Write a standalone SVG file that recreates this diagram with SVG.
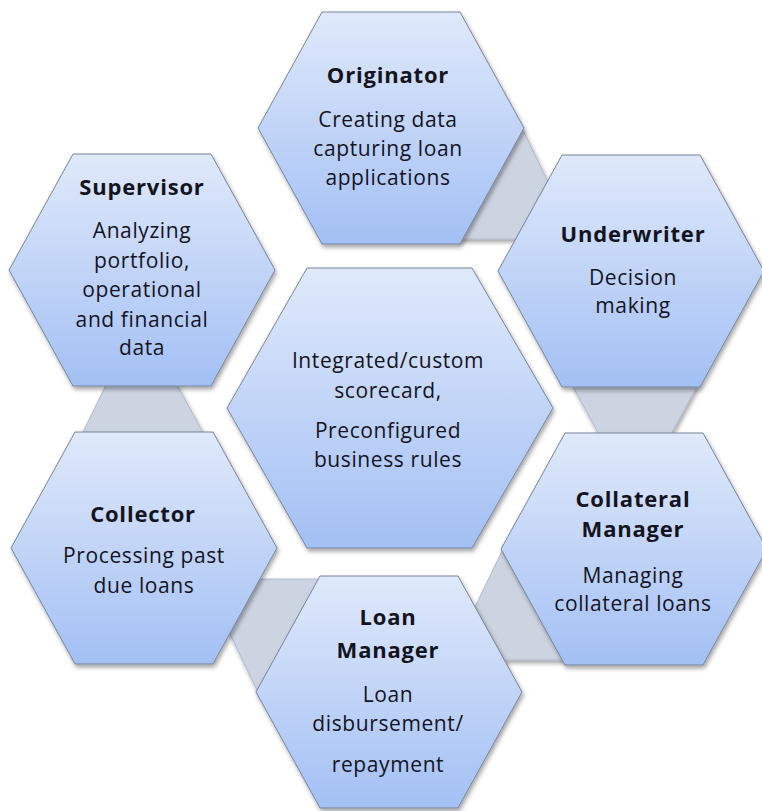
<svg xmlns="http://www.w3.org/2000/svg" width="762" height="811" viewBox="0 0 762 811">
  <defs>
    <linearGradient id="hexFill" x1="0" y1="0" x2="0" y2="1">
      <stop offset="0" stop-color="#e0e9fb"/>
      <stop offset="1" stop-color="#a3c0f4"/>
    </linearGradient>
    <filter id="shadow" x="-10%" y="-10%" width="125%" height="125%">
      <feDropShadow dx="1.5" dy="3" stdDeviation="2" flood-color="#000" flood-opacity="0.35"/>
    </filter>
    <!-- flat-topped hexagon, centred on the origin -->
    <polygon id="hex" points="-133,0 -69,-116 69,-116 133,0 69,116 -69,116"/>
  </defs>
  <style>
    .hex { fill: url(#hexFill); stroke: #76839a; stroke-width: 1; filter: url(#shadow); }
    .link { fill: #cdd4e1; stroke: #a7afbf; stroke-width: 0.8; filter: url(#shadow); }
    text { font-family: "Open Sans", "Liberation Sans", sans-serif; fill: #14141e; text-anchor: middle; }
    .title { font-size: 22px; font-weight: bold; letter-spacing: 0.8px; }
    .body { font-size: 21px; letter-spacing: 0.6px; }
  </style>

  <rect width="762" height="811" fill="#ffffff"/>

  <!-- bands joining neighbouring hexagons -->
  <g id="connectors">
    <polygon class="link" points="522,128 552,190 540,239 458,239"/>
    <polygon class="link" points="571.5,384 698.5,384 670,436 600,436"/>
    <polygon class="link" points="503,549 473,611 485,660 567,660"/>
    <polygon class="link" points="258,692 228,630 240,579 322,579"/>
    <polygon class="link" points="106.5,384 176.5,384 205,436 81,436"/>
  </g>

  <g id="originator">
    <use href="#hex" class="hex" transform="translate(391,128)"/>
    <text class="title" x="388" y="83">Originator</text>
    <text class="body" x="388" y="127">Creating  data</text>
    <text class="body" x="388" y="156">capturing loan</text>
    <text class="body" x="388" y="185">applications</text>
  </g>

  <g id="supervisor">
    <use href="#hex" class="hex" transform="translate(142,270)"/>
    <text class="title" x="142" y="195">Supervisor</text>
    <text class="body" x="142" y="238">Analyzing</text>
    <text class="body" x="142" y="268">portfolio,</text>
    <text class="body" x="142" y="297">operational</text>
    <text class="body" x="142" y="327">and financial</text>
    <text class="body" x="142" y="355">data</text>
  </g>

  <g id="underwriter">
    <use href="#hex" class="hex" transform="translate(631,271)"/>
    <text class="title" x="633" y="242">Underwriter</text>
    <text class="body" x="633" y="285">Decision</text>
    <text class="body" x="633" y="313">making</text>
  </g>

  <g id="core">
    <polygon class="hex" points="227,408 307,268 472,268 553,408 472,548 307,548"/>
    <text class="body" x="388" y="368">Integrated/custom</text>
    <text class="body" x="388" y="398">scorecard,</text>
    <text class="body" x="388" y="438">Preconfigured</text>
    <text class="body" x="388" y="467">business rules</text>
  </g>

  <g id="collector">
    <use href="#hex" class="hex" transform="translate(144,548)"/>
    <text class="title" x="143" y="522">Collector</text>
    <text class="body" x="144" y="563">Processing past</text>
    <text class="body" x="144" y="593">due  loans</text>
  </g>

  <g id="collateral-manager">
    <use href="#hex" class="hex" transform="translate(634,549)"/>
    <text class="title" x="633" y="507">Collateral</text>
    <text class="title" x="633" y="537">Manager</text>
    <text class="body" x="633" y="583">Managing</text>
    <text class="body" x="633" y="611">collateral loans</text>
  </g>

  <g id="loan-manager">
    <use href="#hex" class="hex" transform="translate(389,692)"/>
    <text class="title" x="388" y="625">Loan</text>
    <text class="title" x="388" y="658">Manager</text>
    <text class="body" x="388" y="702">Loan</text>
    <text class="body" x="388" y="731">disbursement/</text>
    <text class="body" x="388" y="772">repayment</text>
  </g>
</svg>
